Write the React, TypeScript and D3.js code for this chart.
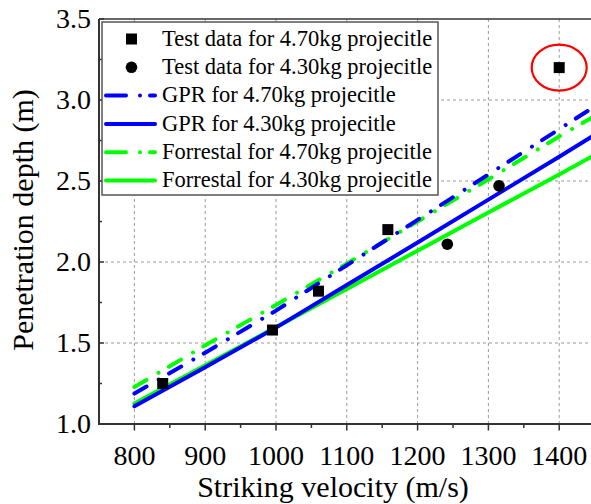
import React from "react";
import * as d3 from "d3";

// Model curves sampled at these striking velocities (m/s)
const velocity = [800, 900, 1000, 1100, 1200, 1300, 1400, 1450];
const gpr470 = [1.188, 1.44, 1.70, 1.98, 2.26, 2.54, 2.82, 2.96];
const gpr430 = [1.109, 1.35, 1.595, 1.858, 2.12, 2.385, 2.65, 2.785];
const forrestal470 = [1.228, 1.486, 1.735, 1.99, 2.25, 2.51, 2.775, 2.90];
const forrestal430 = [1.126, 1.362, 1.598, 1.834, 2.07, 2.306, 2.54, 2.66];

// Test data
const testVel470 = [840, 995, 1060, 1158, 1400];
const testDepth470 = [1.25, 1.58, 1.82, 2.2, 3.2];
const testVel430 = [1242, 1315];
const testDepth430 = [2.11, 2.47];

const xTicks = [800, 900, 1000, 1100, 1200, 1300, 1400];
const xMinorTicks = [850, 950, 1050, 1150, 1250, 1350];
const yTicks = [1.0, 1.5, 2.0, 2.5, 3.0, 3.5];
const yMinorTicks = [1.25, 1.75, 2.25, 2.75, 3.25];

const legendLabels = [
  "Test data for 4.70kg projecitle",
  "Test data for 4.30kg projecitle",
  "GPR for 4.70kg projecitle",
  "GPR for 4.30kg projecitle",
  "Forrestal for 4.70kg projecitle",
  "Forrestal for 4.30kg projecitle",
];

const W = 591;
const H = 504;
const FONT = "'Liberation Serif', 'Times New Roman', serif";
const BLUE = "#0000ff";
const GREEN = "#00ff00";
const DASHDOT = "14 14 0.01 12";

export default function App() {
  const x = d3.scaleLinear().domain([750, 1450]).range([99, 594.6]);
  const y = d3.scaleLinear().domain([1.0, 3.5]).range([424, 19]);
  const [x0, x1] = x.range();
  const [yb, yt] = y.range();

  const line = (ys: number[]) =>
    d3
      .line<number>()
      .x((_, i) => x(velocity[i]))
      .y((d) => y(d))(ys) as string;

  const series = [
    { ys: forrestal430, color: GREEN, dash: undefined },
    { ys: forrestal470, color: GREEN, dash: DASHDOT },
    { ys: gpr430, color: BLUE, dash: undefined },
    { ys: gpr470, color: BLUE, dash: DASHDOT },
  ];

  const legendX = 102;
  const legendY = 22;
  const legendW = 336;
  const legendH = 173;
  const rowY = (i: number) => 39 + i * 28.3;

  return (
    <svg
      width={W}
      height={H}
      style={{ position: "absolute", left: 0, top: 0, background: "#fff" }}
      fontFamily={FONT}
    >
      <defs>
        <clipPath id="plotClip">
          <rect x={x0} y={yt} width={x1 - x0} height={yb - yt} />
        </clipPath>
      </defs>
      <rect width={W} height={H} fill="#fff" />

      {/* grid */}
      {xTicks.map((t) => (
        <line key={"gx" + t} x1={x(t)} x2={x(t)} y1={yb} y2={yt}
          stroke="#9a9a9a" strokeWidth={1} strokeDasharray="3 3" />
      ))}
      {yTicks.slice(1, -1).map((t) => (
        <line key={"gy" + t} x1={x0} x2={x1} y1={y(t)} y2={y(t)}
          stroke="#9a9a9a" strokeWidth={1} strokeDasharray="3 3" />
      ))}

      {/* model curves */}
      <g clipPath="url(#plotClip)">
        {series.map((s, i) => (
          <path key={i} d={line(s.ys)} fill="none" stroke={s.color}
            strokeWidth={4} strokeDasharray={s.dash} strokeLinecap="round" />
        ))}
      </g>

      {/* test points */}
      {testVel470.map((v, i) => (
        <rect key={"s" + i} x={x(v) - 5.5} y={y(testDepth470[i]) - 5.5}
          width={11} height={11} fill="#000" />
      ))}
      {testVel430.map((v, i) => (
        <circle key={"c" + i} cx={x(v)} cy={y(testDepth430[i])} r={5.8} fill="#000" />
      ))}

      {/* highlighted outlier */}
      <ellipse cx={x(1400)} cy={y(3.2)} rx={27.5} ry={23} fill="none"
        stroke="#ff0000" strokeWidth={2.2} />

      {/* frame */}
      <line x1={x0} x2={x1} y1={yt} y2={yt} stroke="#333" strokeWidth={1.5} />
      <line x1={x0} x2={x0} y1={yt} y2={yb} stroke="#333" strokeWidth={2} />
      <line x1={x0 - 1} x2={x1} y1={yb} y2={yb} stroke="#333" strokeWidth={2} />

      {/* x ticks (outward) */}
      {xTicks.map((t) => (
        <line key={"xt" + t} x1={x(t)} x2={x(t)} y1={yb} y2={yb + 6.5} stroke="#333" strokeWidth={1.5} />
      ))}
      {xMinorTicks.map((t) => (
        <line key={"xm" + t} x1={x(t)} x2={x(t)} y1={yb} y2={yb + 4} stroke="#333" strokeWidth={1.5} />
      ))}
      {xTicks.map((t) => (
        <text key={"xl" + t} x={x(t)} y={yb + 41} fontSize={28} textAnchor="middle" fill="#000">
          {t}
        </text>
      ))}

      {/* y ticks (inward) */}
      {yTicks.map((t) => (
        <line key={"yt" + t} x1={x0} x2={x0 + 5} y1={y(t)} y2={y(t)} stroke="#333" strokeWidth={1.5} />
      ))}
      {yMinorTicks.map((t) => (
        <line key={"ym" + t} x1={x0} x2={x0 + 3} y1={y(t)} y2={y(t)} stroke="#333" strokeWidth={1.5} />
      ))}
      {yTicks.map((t) => (
        <text key={"yl" + t} x={91} y={y(t) + 9} fontSize={28} textAnchor="end" fill="#000">
          {t.toFixed(1)}
        </text>
      ))}

      {/* axis titles */}
      <text x={333} y={497} fontSize={30} textAnchor="middle" fill="#000">
        Striking velocity (m/s)
      </text>
      <text transform={`translate(33, 220) rotate(-90)`} fontSize={30}
        textAnchor="middle" fill="#000">
        Penetration depth (m)
      </text>

      {/* legend */}
      <rect x={legendX} y={legendY} width={legendW} height={legendH}
        fill="#fff" stroke="#555" strokeWidth={1.5} />
      <rect x={131.5 - 5.5} y={rowY(0) - 5.5} width={11} height={11} fill="#000" />
      <circle cx={131.5} cy={rowY(1)} r={5.8} fill="#000" />
      {[
        { color: BLUE, dash: DASHDOT },
        { color: BLUE, dash: undefined },
        { color: GREEN, dash: DASHDOT },
        { color: GREEN, dash: undefined },
      ].map((s, i) => (
        <line key={"ll" + i} x1={106} x2={155} y1={rowY(i + 2)} y2={rowY(i + 2)}
          stroke={s.color} strokeWidth={4} strokeLinecap="round"
          strokeDasharray={s.dash ? "20 14 0.01 10" : undefined} />
      ))}
      {legendLabels.map((l, i) => (
        <text key={"lt" + i} x={162} y={rowY(i) + 6.8} fontSize={22.5} fill="#000">
          {l}
        </text>
      ))}
    </svg>
  );
}
